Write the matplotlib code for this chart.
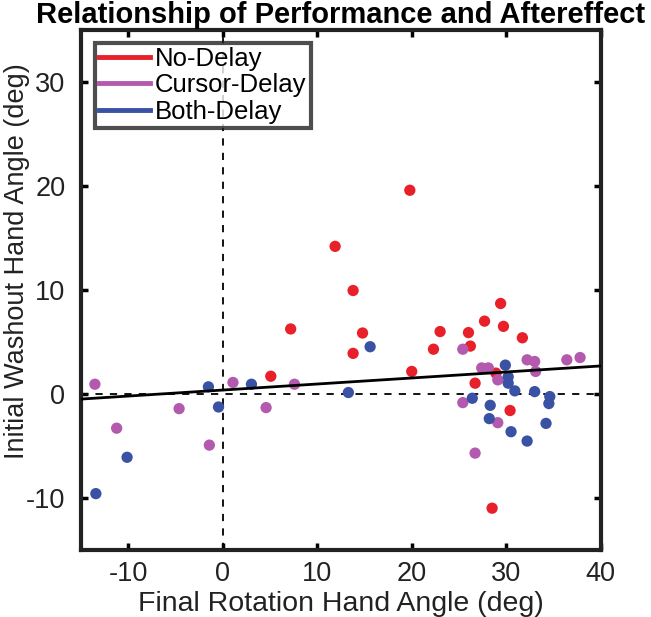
import matplotlib.pyplot as plt
from matplotlib.lines import Line2D

plt.rcParams['font.family'] = ['Liberation Sans', 'DejaVu Sans']
plt.rcParams['axes.unicode_minus'] = False

# No-Delay group
no_delay_x = [11.9, 13.8, 7.2, 13.8, 5.1, 14.8, 19.8, 20.0, 22.3, 23.0,
              26.0, 26.2, 27.7, 29.4, 29.7, 31.7, 28.9, 26.7, 30.4, 28.5]
no_delay_y = [14.2, 9.95, 6.25, 3.9, 1.7, 5.86, 19.6, 2.16, 4.3, 6.0,
              5.9, 4.6, 7.0, 8.7, 6.5, 5.4, 2.0, 1.03, -1.6, -11.0]

# Cursor-Delay group
cursor_x = [-13.5, 1.1, 7.6, -4.6, 4.6, -11.2, -1.4, 25.4, 27.4, 28.1,
            29.1, 32.2, 33.0, 33.1, 36.4, 37.8, 25.4, 29.1, 26.7]
cursor_y = [0.93, 1.1, 0.93, -1.42, -1.32, -3.3, -4.93, 4.3, 2.5, 2.5,
            1.35, 3.28, 3.12, 2.16, 3.28, 3.5, -0.84, -2.77, -5.7]

# Both-Delay group
both_x = [-1.5, 3.05, 13.3, -0.43, -10.1, -13.4, 15.6, 29.9, 30.2, 30.2,
          30.9, 33.0, 34.6, 34.5, 26.4, 28.3, 28.2, 30.5, 32.2, 34.2]
both_y = [0.68, 0.93, 0.13, -1.26, -6.1, -9.6, 4.54, 2.77, 1.64, 1.03,
          0.29, 0.22, -0.26, -0.93, -0.42, -1.1, -2.38, -3.64, -4.54, -2.84]

# regression line across all groups
fit_slope = 0.058
fit_intercept = 0.37
fit_x = [-15, 40]

red = '#e8202a'
purple = '#b45aae'
blue = '#3a52a4'
dark = '#222222'

fig = plt.figure(figsize=(6.51, 6.17), dpi=100)
ax = fig.add_axes([0.124, 0.109, 0.799, 0.842])

ax.axvline(0, color='black', ls=(0, (4, 4)), lw=1.3, zorder=1)
ax.axhline(0, color='black', ls=(0, (4, 4)), lw=1.3, zorder=1)

ax.scatter(no_delay_x, no_delay_y, s=66, color=red, edgecolors='none', zorder=3)
ax.scatter(cursor_x, cursor_y, s=66, color=purple, edgecolors='none', zorder=3)
ax.scatter(both_x, both_y, s=66, color=blue, edgecolors='none', zorder=3)

ax.plot(fit_x, [fit_intercept + fit_slope * v for v in fit_x], color='black', lw=2, zorder=4)

ax.set_xlim(-15, 40)
ax.set_ylim(-15, 35)
ax.set_xticks([-10, 0, 10, 20, 30, 40])
ax.set_yticks([-10, 0, 10, 20, 30])
ax.tick_params(direction='in', length=5, width=2.5, labelsize=19.5, top=True, right=True,
               labelcolor=dark)
ax.tick_params(axis='x', pad=8)
ax.tick_params(axis='y', pad=11)
for sp in ax.spines.values():
    sp.set_linewidth(3)
    sp.set_color(dark)

ax.set_xlabel('Final Rotation Hand Angle (deg)', fontsize=20.5, color=dark, labelpad=3)
ax.set_ylabel('Initial Washout Hand Angle (deg)', fontsize=19.5, color=dark)
ax.yaxis.set_label_coords(-0.098, 0.555)
ax.set_title('Relationship of Performance and Aftereffect', fontsize=21, fontweight='bold',
             pad=5, x=0.5)

handles = [Line2D([], [], color=red, lw=3.5, label='No-Delay'),
           Line2D([], [], color=purple, lw=3.5, label='Cursor-Delay'),
           Line2D([], [], color=blue, lw=3.5, label='Both-Delay')]
leg = ax.legend(handles=handles, loc='upper left', fontsize=18.5, fancybox=False,
                handlelength=2.0, handletextpad=0.2, borderpad=0.15, labelspacing=0.1,
                borderaxespad=0, bbox_to_anchor=(0.027, 0.976))
leg.get_frame().set_edgecolor(dark)
leg.get_frame().set_linewidth(3)

fig.savefig('out.png', dpi=100)
